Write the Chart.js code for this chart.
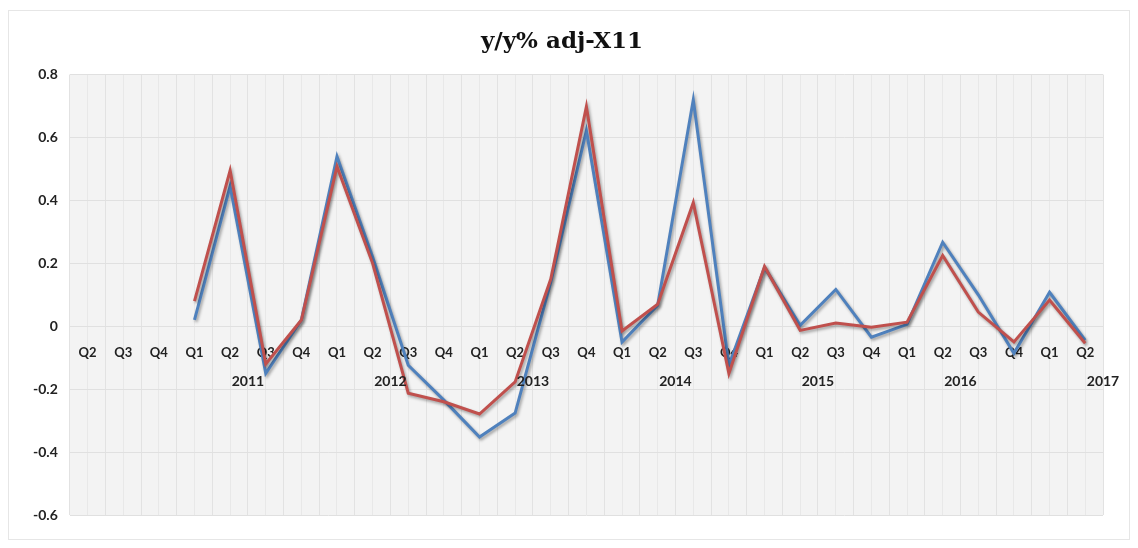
<!DOCTYPE html>
<html>
<head>
<meta charset="utf-8">
<script src="https://cdn.jsdelivr.net/npm/chart.js@4/dist/chart.umd.min.js"></script>
<style>
  html, body { margin: 0; padding: 0; background: #fff; }
  #wrap { position: relative; width: 1138px; height: 548px; }
  #frame { position: absolute; left: 8px; top: 10px; width: 1122px; height: 530px; border: 1px solid #e6e6e6; box-sizing: border-box; pointer-events: none; }
</style>
</head>
<body>
<div id="wrap">
  <canvas id="chart" width="1138" height="548"></canvas>
  <div id="frame"></div>
</div>
<script>
// quarters, first three belong to 2010 (no year label shown)
const quarters = ['Q2','Q3','Q4',
  'Q1','Q2','Q3','Q4',
  'Q1','Q2','Q3','Q4',
  'Q1','Q2','Q3','Q4',
  'Q1','Q2','Q3','Q4',
  'Q1','Q2','Q3','Q4',
  'Q1','Q2','Q3','Q4',
  'Q1','Q2'];
const years = ['2011','2012','2013','2014','2015','2016','2017'];
const yearStart = [3, 7, 11, 15, 19, 23, 27]; // index of Q1 for each year

const blueSeries = [null, null, null,
  0.02, 0.445, -0.15, 0.02,
  0.54, 0.22, -0.124, -0.235,
  -0.352, -0.276, 0.14, 0.622,
  -0.05, 0.067, 0.72, -0.124,
  0.187, 0.003, 0.117, -0.035,
  0.006, 0.267, 0.10, -0.086,
  0.108, -0.044];
const redSeries = [null, null, null,
  0.08, 0.495, -0.12, 0.02,
  0.508, 0.20, -0.213, -0.24,
  -0.279, -0.177, 0.15, 0.698,
  -0.015, 0.07, 0.393, -0.15,
  0.19, -0.013, 0.01, -0.003,
  0.013, 0.225, 0.045, -0.05,
  0.083, -0.054];

const tickFont = { family: 'Lato', size: 13, weight: 'bold' };

// grey plot area
const plotBg = {
  id: 'plotBg',
  beforeDraw(chart) {
    const { ctx, chartArea: a } = chart;
    ctx.save();
    ctx.fillStyle = '#f3f3f3';
    ctx.fillRect(a.left, a.top, a.right - a.left, a.bottom - a.top);
    ctx.restore();
  }
};

// soft shadow under the lines
const lineShadow = {
  id: 'lineShadow',
  beforeDatasetsDraw(chart) {
    const ctx = chart.ctx;
    ctx.save();
    ctx.shadowColor = 'rgba(0,0,0,0.35)';
    ctx.shadowBlur = 3;
    ctx.shadowOffsetX = 1.5;
    ctx.shadowOffsetY = 2;
  },
  afterDatasetsDraw(chart) {
    chart.ctx.restore();
  }
};

// year row, centred under each group of quarters
const yearLabels = {
  id: 'yearLabels',
  afterDraw(chart) {
    const { ctx, scales } = chart;
    const x = scales.x, y = scales.y;
    const yy = y.getPixelForValue(0) + 55;
    ctx.save();
    ctx.font = 'bold 14px Lato';
    ctx.fillStyle = '#222';
    ctx.textAlign = 'center';
    ctx.textBaseline = 'middle';
    years.forEach((yr, i) => {
      const s = yearStart[i];
      const e = Math.min(s + 3, quarters.length - 1);
      let px = (x.getPixelForValue(s) + x.getPixelForValue(e)) / 2;
      if (i === years.length - 1) px = x.right;
      ctx.fillText(yr, px, yy);
    });
    ctx.restore();
  }
};

new Chart(document.getElementById('chart'), {
  type: 'line',
  data: {
    labels: quarters,
    datasets: [
      { label: 'series 1', data: blueSeries, borderColor: '#4f81bd', borderWidth: 3, pointRadius: 0, tension: 0, order: 1 },
      { label: 'series 2', data: redSeries, borderColor: '#c0504d', borderWidth: 3, pointRadius: 0, tension: 0, order: 0 }
    ]
  },
  options: {
    responsive: false,
    animation: false,
    layout: { padding: { left: 21, right: 35, top: 10, bottom: 33 } },
    plugins: {
      legend: { display: false },
      tooltip: { enabled: false },
      title: {
        display: true,
        text: 'y/y% adj-X11',
        color: '#111',
        font: { family: 'DejaVu Serif', size: 23, weight: 'bold' },
        padding: { top: 18, bottom: 19 }
      }
    },
    scales: {
      x: {
        position: { y: 0 },
        offset: true,
        grid: { offset: true, color: '#e2e2e2', drawTicks: false },
        border: { display: false },
        ticks: { color: '#222', font: tickFont, padding: 19, maxRotation: 0, autoSkip: false }
      },
      x2: {
        type: 'category',
        labels: quarters,
        position: 'bottom',
        offset: true,
        display: true,
        grid: { offset: false, color: '#e8e8e8', drawTicks: false },
        border: { display: false },
        ticks: { display: false }
      },
      y: {
        min: -0.6,
        max: 0.8,
        grid: { color: '#e0e0e0', drawTicks: false },
        border: { display: false },
        ticks: {
          stepSize: 0.2,
          color: '#222',
          font: { family: 'Lato', size: 14, weight: 'bold' },
          padding: 12,
          callback: v => Number(v.toFixed(1)).toString()
        }
      }
    }
  },
  plugins: [plotBg, lineShadow, yearLabels]
});
</script>
</body>
</html>
